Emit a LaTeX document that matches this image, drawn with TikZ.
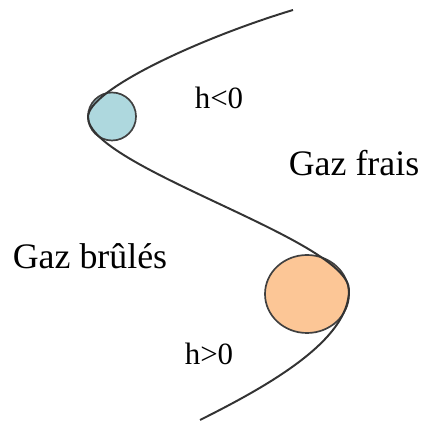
\documentclass[tikz,border=0pt]{standalone}
\usepackage{fontspec}
\setmainfont{Liberation Serif}
\definecolor{bulle}{RGB}{174,216,222}
\definecolor{braise}{RGB}{252,198,150}
\tikzset{
  front/.style={line width=1.4pt, draw=black!80},
  poche/.style={line width=1.2pt, draw=black!75},
  gaz/.style={font=\fontsize{25.5}{30}\selectfont, inner sep=0pt},
  signe/.style={font=\fontsize{22}{26}\selectfont, inner sep=0pt}
}
\begin{document}
\begin{tikzpicture}
  \useasboundingbox (0,0) rectangle (10.525,10.575);
  \coordinate (haut) at (7.325,10.325); \coordinate (bas) at (5,.075);
  \coordinate (creux) at (2.2,7.65); \coordinate (bosse) at (8.725,3.325);
  \filldraw[poche,fill=bulle] (2.8,7.6625) circle (.6);
  \filldraw[poche,fill=braise] (7.675,3.225) ellipse (1.05 and .975);
  \draw[front] (haut) .. controls (5,9.625) and (2.2,8.325) .. (creux)
    .. controls (2.2,6.4) and (8.725,4.575) .. (bosse)
    .. controls (8.725,2.075) and (6.75,.95) .. (bas);
  \node[signe] (hneg) at (5.475,8.125) {h<0};
  \node[gaz] (frais) at (8.85,6.5) {Gaz frais};
  \node[gaz] (brules) at (2.25,4.175) {Gaz brûlés};
  \node[signe] (hpos) at (5.225,1.725) {h>0};
\end{tikzpicture}
\end{document}
